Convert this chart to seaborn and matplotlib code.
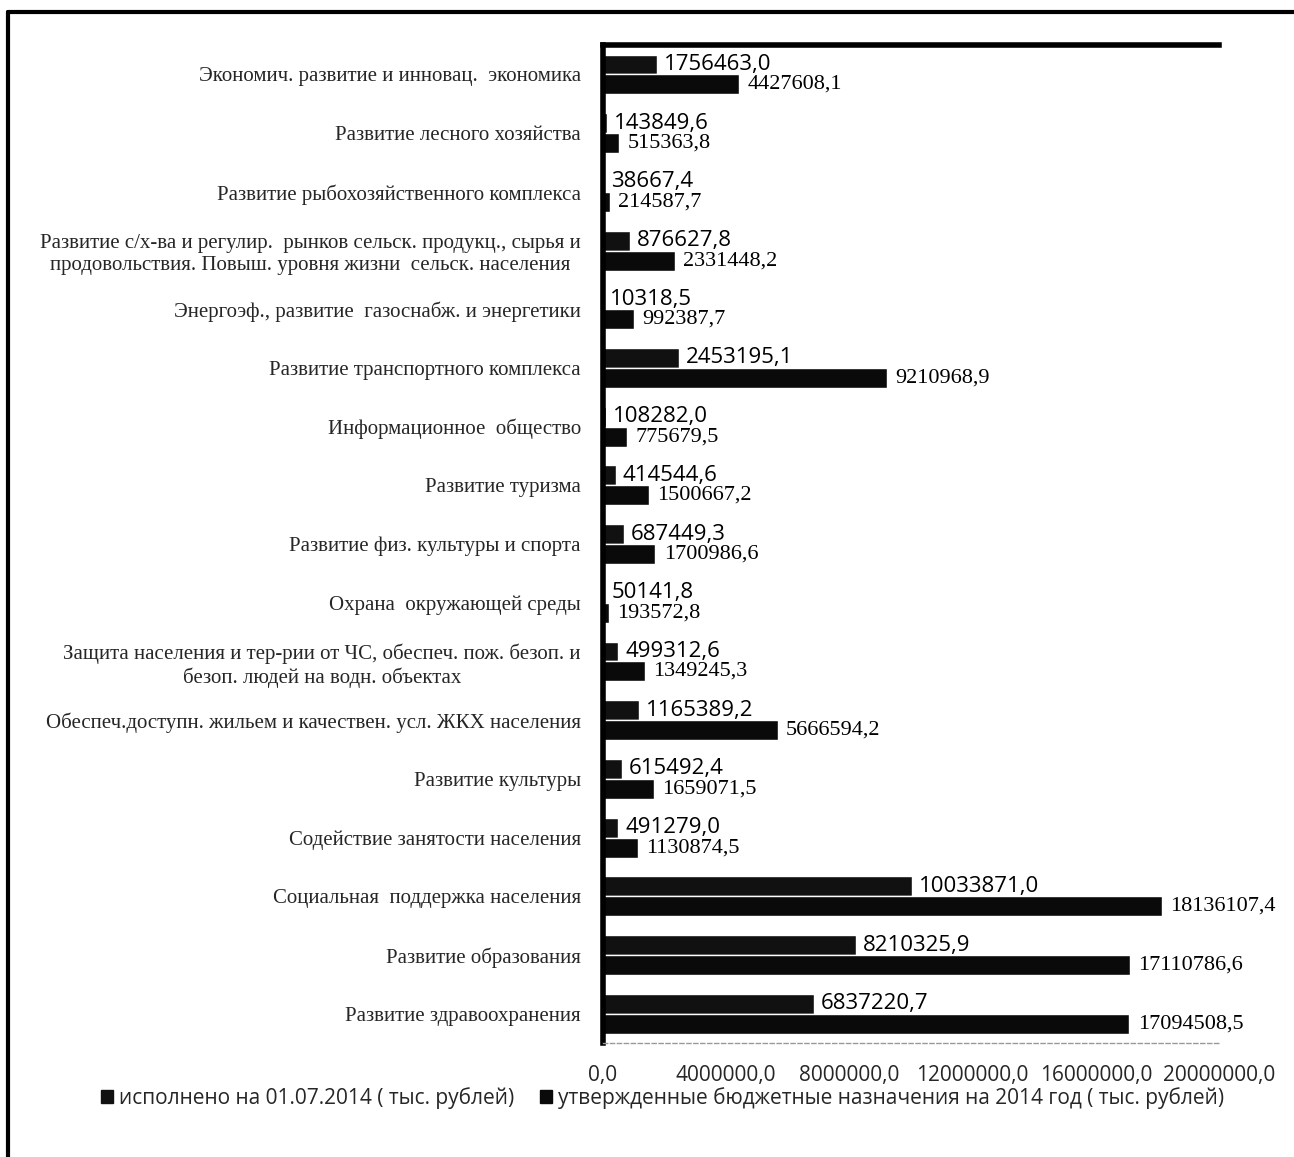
import pandas as pd
import matplotlib
matplotlib.use("Agg")
import matplotlib.pyplot as plt
import seaborn as sns
from matplotlib.lines import Line2D
from matplotlib.patches import Patch

# данные
categories = [
    "Экономич. развитие и инновац.  экономика",
    "Развитие лесного хозяйства",
    "Развитие рыбохозяйственного комплекса",
    "Развитие с/х-ва и регулир.  рынков сельск. продукц., сырья и\nпродовольствия. Повыш. уровня жизни  сельск. населения",
    "Энергоэф., развитие  газоснабж. и энергетики",
    "Развитие транспортного комплекса",
    "Информационное  общество",
    "Развитие туризма",
    "Развитие физ. культуры и спорта",
    "Охрана  окружающей среды",
    "Защита населения и тер-рии от ЧС, обеспеч. пож. безоп. и\nбезоп. людей на водн. объектах",
    "Обеспеч.доступн. жильем и качествен. усл. ЖКХ населения",
    "Развитие культуры",
    "Содействие занятости населения",
    "Социальная  поддержка населения",
    "Развитие образования",
    "Развитие здравоохранения",
]
executed = [1756463.0, 143849.6, 38667.4, 876627.8, 10318.5, 2453195.1, 108282.0,
            414544.6, 687449.3, 50141.8, 499312.6, 1165389.2, 615492.4, 491279.0,
            10033871.0, 8210325.9, 6837220.7]
approved = [4427608.1, 515363.8, 214587.7, 2331448.2, 992387.7, 9210968.9, 775679.5,
            1500667.2, 1700986.6, 193572.8, 1349245.3, 5666594.2, 1659071.5, 1130874.5,
            18136107.4, 17110786.6, 17094508.5]
series_names = ["исполнено на 01.07.2014 ( тыс. рублей)",
                "утвержденные бюджетные назначения на 2014 год ( тыс. рублей)"]
x_ticks = [0, 4000000, 8000000, 12000000, 16000000, 20000000]

df = pd.DataFrame({
    "cat": categories * 2,
    "value": executed + approved,
    "series": [series_names[0]] * len(categories) + [series_names[1]] * len(categories),
})

sns.set_style("white")
sans = ["Open Sans", "DejaVu Sans"]
serif = ["Liberation Serif", "DejaVu Serif"]

fig = plt.figure(figsize=(12.94, 11.57), dpi=100)
ax = fig.add_axes([0.466, 0.0985, 0.476, 0.8625])

sns.barplot(data=df, y="cat", x="value", hue="series", order=categories,
            hue_order=series_names, palette=["#111111", "#0a0a0a"],
            width=0.68, orient="h", legend=False, ax=ax)

fmt = lambda v: f"{v:.1f}".replace(".", ",")
ax.bar_label(ax.containers[0], labels=[fmt(v) for v in executed], padding=5,
             fontsize=16, family=sans, color="black")
ax.bar_label(ax.containers[1], labels=[fmt(v) for v in approved], padding=6,
             fontsize=16, family=serif, color="black")

ax.set_xlim(0, 20000000)
ax.set_xticks(x_ticks)
ax.set_xticklabels([fmt(t) for t in x_ticks], family=sans, fontsize=15)
ax.set_yticks(range(len(categories)))
ax.set_yticklabels(categories, family=serif, fontsize=15, multialignment="center")
ax.tick_params(axis="both", length=0)
ax.tick_params(axis="x", pad=16)
ax.tick_params(axis="y", pad=16)
ax.set_xlabel("")
ax.set_ylabel("")

ax.spines["right"].set_visible(False)
ax.spines["left"].set_linewidth(4)
ax.spines["left"].set_color("black")
ax.spines["top"].set_linewidth(4)
ax.spines["top"].set_color("black")
ax.spines["bottom"].set_linewidth(1)
ax.spines["bottom"].set_color("#999999")
ax.spines["bottom"].set_linestyle((0, (3, 2)))

handles = [Patch(facecolor="#111111", edgecolor="#111111"),
           Patch(facecolor="#0a0a0a", edgecolor="#0a0a0a")]
fig.legend(handles, series_names, loc="center", bbox_to_anchor=(0.512, 0.051),
           ncol=2, frameon=False, prop={"family": sans, "size": 15},
           handlelength=0.6, handleheight=0.6, handletextpad=0.3, columnspacing=1.2)

# рамка сканированного листа
fig.add_artist(Line2D([0.006, 0.006], [0.0, 0.99], transform=fig.transFigure,
                      color="black", linewidth=3))
fig.add_artist(Line2D([0.006, 1.0], [0.99, 0.99], transform=fig.transFigure,
                      color="black", linewidth=3))

fig.savefig("out.png", dpi=100, facecolor="white")
